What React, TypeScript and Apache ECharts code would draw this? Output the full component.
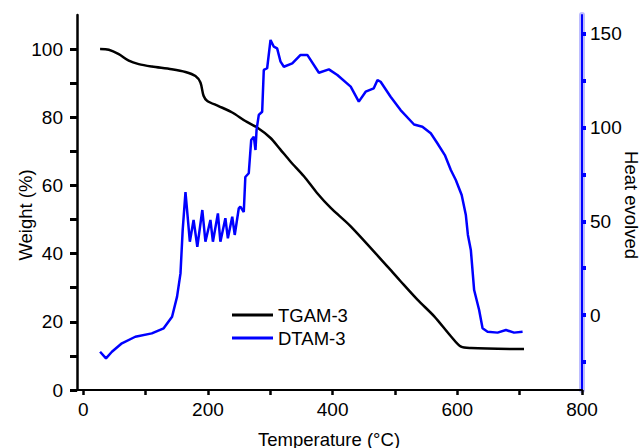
import React, { useEffect, useRef } from "react";
import * as echarts from "echarts";

// TGA (weight %) — temperature (°C)
const tgaT = [27, 41, 57, 73, 89, 110, 142, 164, 180, 188, 193, 199, 217, 239, 260, 279, 300, 316, 332, 354, 375, 397, 429, 490, 509, 536, 563, 590, 606, 622, 707];
const tgaW = [100, 99.8, 98.5, 96.6, 95.6, 94.9, 94.1, 93.3, 92.1, 90.2, 86.3, 84.8, 83.3, 81.4, 78.9, 77, 74, 70.6, 67.1, 62.7, 57.8, 53.4, 48, 35.8, 31.9, 26.5, 21.6, 15.7, 12.7, 12.3, 12.0];

// DTA (heat evolved) — temperature (°C)
const dtaT = [27, 36.5, 46, 62, 83.5, 110, 129, 142.5, 150.5, 156, 159.5, 164, 171, 177, 183, 191, 196, 204, 208, 216, 220, 228, 232, 239, 243, 249.5, 252, 257.5, 260, 265.5, 269.4, 273.6, 276.3, 278, 281.6, 287, 289.6, 295, 300.4, 305.7, 311, 316.5, 321.8, 335.3, 348.6, 359.4, 378, 394, 407.6, 429, 442, 453, 466, 472, 477, 493, 509, 530.6, 544, 557.4, 568, 580, 589.6, 597.6, 607, 613.7, 617, 621.7, 627, 635, 640.5, 648.5, 664.6, 678, 691, 704.7];
const dtaV = [-19.6, -23.1, -19.6, -15.1, -11.6, -9.8, -7.1, -0.9, 9.8, 22.2, 45.3, 65.6, 39.1, 50.7, 36.4, 56, 39.1, 50.7, 39.1, 54.2, 39.1, 51.6, 40.9, 52.4, 42.7, 56.9, 57.8, 54.9, 73.6, 75.6, 93.3, 95.1, 88, 98.7, 106.7, 108.4, 130.7, 131.6, 146.7, 143.1, 142.2, 135.1, 132.4, 134.2, 138.7, 138.7, 129.2, 131, 128, 121.8, 113.8, 119.1, 120.9, 125.3, 124.4, 116.4, 109.3, 101.6, 100.4, 96.9, 91.6, 85.3, 77.3, 72, 64, 53.3, 42.7, 34.7, 13.3, 2.7, -7.1, -8.9, -9.4, -8, -9.4, -8.9];

const xTicks = [0, 100, 200, 300, 400, 500, 600, 700, 800];
const xLabels = [0, 200, 400, 600, 800];
const leftTicks = [0, 10, 20, 30, 40, 50, 60, 70, 80, 90, 100];
const leftLabels = [0, 20, 40, 60, 80, 100];
const rightTicks = [-25, 0, 25, 50, 75, 100, 125, 150];
const rightLabels = [0, 50, 100, 150];

const FONT = "'Liberation Sans', Arial, Helvetica, sans-serif";
const BLUE = "#0000ff";
const LABEL_SIZE = 19;
const TITLE_SIZE = 18.5;

export default function App() {
  const ref = useRef<HTMLDivElement>(null);
  useEffect(() => {
    if (!ref.current) return;
    const chart = echarts.init(ref.current, null, { renderer: "svg" });
    const tga = tgaT.map((t, i) => [t, tgaW[i]]);
    const dta = dtaT.map((t, i) => [t, dtaV[i]]);
    chart.setOption({
      animation: false,
      backgroundColor: "#fff",
      textStyle: { fontFamily: FONT },
      grid: { left: 77, right: 59, top: 15, bottom: 58 },
      legend: {
        orient: "vertical",
        left: 227,
        top: 300,
        icon: "rect",
        itemWidth: 41,
        itemHeight: 3,
        itemGap: 3,
        textStyle: { fontFamily: FONT, fontSize: TITLE_SIZE, color: "#000", lineHeight: 20 },
        data: ["TGAM-3", "DTAM-3"],
      },
      xAxis: {
        type: "value",
        min: -10,
        max: 800,
        splitLine: { show: false },
        axisLine: { onZero: false, lineStyle: { color: "#000", width: 2 } },
        axisTick: { customValues: xTicks, length: 5, lineStyle: { color: "#000", width: 2.5 } },
        axisLabel: { customValues: xLabels, margin: 10, fontSize: LABEL_SIZE, color: "#000", fontFamily: FONT },
      },
      yAxis: [
        {
          type: "value",
          min: 0,
          max: 110,
          position: "left",
          splitLine: { show: false },
          axisLine: { show: true, onZero: false, lineStyle: { color: "#000", width: 2.5 } },
          axisTick: { show: true, customValues: leftTicks, length: 7, lineStyle: { color: "#000", width: 3 } },
          axisLabel: { customValues: leftLabels, margin: 14, fontSize: LABEL_SIZE, color: "#000", fontFamily: FONT },
        },
        {
          // soft halo behind the blue right axis
          type: "value",
          min: -40,
          max: 160,
          position: "right",
          splitLine: { show: false },
          axisLine: { show: true, onZero: false, lineStyle: { color: "rgba(90,90,255,0.4)", width: 6 } },
          axisTick: { show: false },
          axisLabel: { show: false },
        },
        {
          type: "value",
          min: -40,
          max: 160,
          position: "right",
          splitLine: { show: false },
          axisLine: { show: true, onZero: false, lineStyle: { color: BLUE, width: 2 } },
          axisTick: { show: true, customValues: rightTicks, length: 4, lineStyle: { color: BLUE, width: 4 } },
          axisLabel: { customValues: rightLabels, margin: 8, fontSize: LABEL_SIZE, color: "#000", fontFamily: FONT },
        },
      ],
      graphic: [
        {
          type: "text",
          x: 25,
          y: 215,
          rotation: Math.PI / 2,
          style: { text: "Weight (%)", font: `${TITLE_SIZE}px ${FONT}`, fill: "#000", align: "center", verticalAlign: "middle" },
        },
        {
          type: "text",
          x: 329,
          y: 439,
          style: { text: "Temperature (°C)", font: `${TITLE_SIZE}px ${FONT}`, fill: "#000", align: "center", verticalAlign: "middle" },
        },
        {
          type: "text",
          x: 631,
          y: 205,
          rotation: -Math.PI / 2,
          style: { text: "Heat evolved", font: `${TITLE_SIZE}px ${FONT}`, fill: "#000", align: "center", verticalAlign: "middle" },
        },
      ],
      series: [
        {
          name: "TGAM-3",
          type: "line",
          data: tga,
          yAxisIndex: 0,
          showSymbol: false,
          symbol: "none",
          smooth: 0.3,
          lineStyle: { color: "#000", width: 2.5 },
          itemStyle: { color: "#000" },
        },
        {
          name: "DTAM-3",
          type: "line",
          data: dta,
          yAxisIndex: 2,
          showSymbol: false,
          symbol: "none",
          lineStyle: { color: BLUE, width: 2.5 },
          itemStyle: { color: BLUE },
        },
      ],
    });
    return () => chart.dispose();
  }, []);
  return <div ref={ref} style={{ position: "fixed", left: 0, top: 0, width: 641, height: 448 }} />;
}
